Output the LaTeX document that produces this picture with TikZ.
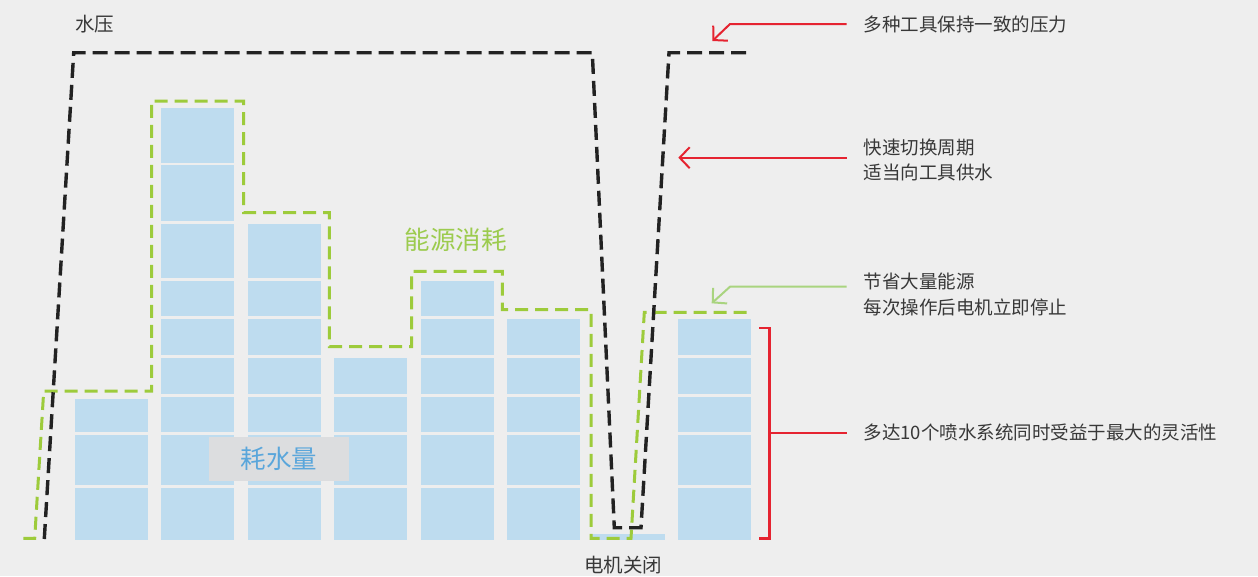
\documentclass[tikz,border=0pt]{standalone}
\usepackage{fontspec}
\setmainfont{Noto Sans CJK SC}
\usetikzlibrary{arrows.meta}
\definecolor{bgc}{HTML}{EEEEEE}
\definecolor{cellblue}{HTML}{BEDCEF}
\definecolor{dgreen}{HTML}{9DCB3B}
\definecolor{lgreen}{HTML}{A9D47F}
\definecolor{lblgreen}{HTML}{9CCB4E}
\definecolor{redc}{HTML}{E52330}
\definecolor{blackc}{HTML}{222222}
\definecolor{greybox}{HTML}{DCDDDF}
\definecolor{bluetext}{HTML}{5AA6DB}
\definecolor{txt}{HTML}{383838}
\tikzset{
  cell/.style={fill=cellblue, draw=none},
  pressure/.style={draw=blackc, line width=3.4pt, dash pattern=on 15pt off 7pt},
  energy/.style={draw=dgreen, line width=3pt, dash pattern=on 13pt off 7pt},
  redarrow/.style={draw=redc, line width=2pt, -{Straight Barb[length=10pt,width=21pt,line width=2pt]}},
  greenarrow/.style={draw=lgreen, line width=2pt, -{Straight Barb[length=10pt,width=21pt,line width=2pt]}},
  bracketline/.style={draw=redc, line width=2.6pt},
  note/.style={anchor=west, inner sep=0pt, text=txt, font=\fontsize{18.5}{25.5}\selectfont, align=left},
  biglabel/.style={inner sep=0pt, font=\fontsize{25.5}{30}\selectfont},
}
\begin{document}
\begin{tikzpicture}[x=1pt,y=-1pt]
\fill[bgc] (0,0) rectangle (1258,576);
\useasboundingbox (0,0) rectangle (1258,576);

% water use cells
\foreach \xa/\xb/\n in {160.7/233.7/9, 247.7/320.7/7, 333.7/407/4, 421/493.7/6, 506.7/580/5, 678/750.7/5}{
  \foreach \ya/\yb [count=\i] in {488/540,435/485,396.5/432,358/394,319/355,281/316,224/278,165.3/221,107.7/163}{
    \ifnum\i>\n\relax\else\fill[cell] (\xa,\ya) rectangle (\xb,\yb);\fi
  }
}
\foreach \ya/\yb in {488/540,435/485,399/432}{
  \fill[cell] (75,\ya) rectangle (147.7,\yb);
}
\fill[cell] (591.7,534) rectangle (665,539.5);

% water consumption label
\node[biglabel, fill=greybox, minimum width=140.3pt, minimum height=43.4pt, text=bluetext] (wl) at (279.2,459) {耗水量};

% energy consumption line
\draw[energy] (23.3,538.3) -- (34.7,538.3) -- (43.7,391) -- (151.7,391) -- (151.7,101)
  -- (243.7,101) -- (243.7,212.7) -- (329.3,212.7) -- (329.3,346.7) -- (411.7,346.7)
  -- (411.7,271.3) -- (502.3,271.3) -- (502.3,309.7) -- (591,309.7) -- (591,538.3)
  -- (631,538.3) -- (644.3,312.3) -- (753.3,312.3);

% water pressure line
\draw[pressure] (44.3,539) -- (73.7,52.7) -- (592.3,52.7) -- (614.3,527.7) -- (641,527.7)
  -- (669,52.7) -- (750,52.7);

% labels
\node[inner sep=0pt, text=txt, font=\fontsize{19.5}{24}\selectfont] (wp) at (94.5,24.5) {水压};
\node[biglabel, text=lblgreen] (el) at (455.7,239.5) {能源消耗};
\node[inner sep=0pt, text=txt, font=\fontsize{19.5}{24}\selectfont] (mo) at (623,565) {电机关闭};

% notes
\node[note] (n1) at (863.3,24.5) {多种工具保持一致的压力};
\node[note] (n2) at (863.3,160) {快速切换周期\\适当向工具供水};
\node[note] (n3) at (863.3,294.5) {节省大量能源\\每次操作后电机立即停止};
\node[note] (n4) at (863.3,432) {多达10个喷水系统同时受益于最大的灵活性};

% arrows
\coordinate (a1s) at (846.7,24);
\coordinate (a1b) at (730,24);
\coordinate (a1t) at (712.3,41);
\draw[redarrow] (a1s) -- (a1b) -- (a1t);

\coordinate (a2s) at (846.7,157.7);
\coordinate (a2t) at (678.3,157.7);
\draw[redarrow] (a2s) -- (a2t);

\coordinate (a3s) at (846.7,286.7);
\coordinate (a3b) at (730,286.7);
\coordinate (a3t) at (711.7,303.3);
\draw[greenarrow] (a3s) -- (a3b) -- (a3t);

% bracket
\coordinate (bt) at (769.3,328);
\coordinate (bb) at (769.3,538.3);
\coordinate (bm) at (769.3,433);
\coordinate (bl) at (846.7,433);
\draw[bracketline] ([xshift=-10.3pt]bt) -- (bt) -- (bb) -- ([xshift=-10.3pt]bb);
\draw[bracketline] (bm) -- (bl);
\end{tikzpicture}
\end{document}
